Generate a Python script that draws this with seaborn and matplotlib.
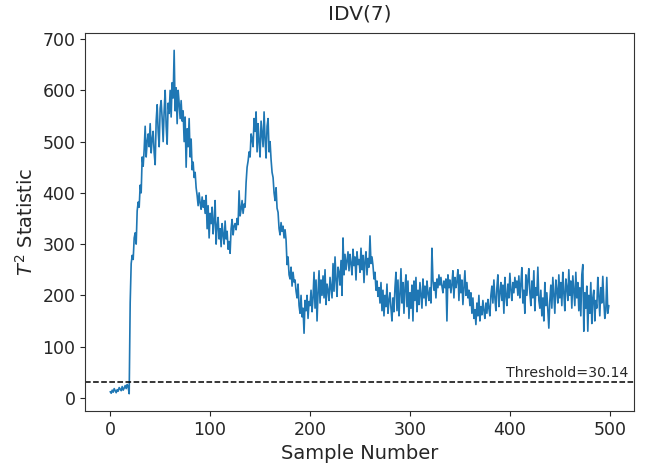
import numpy as np
import pandas as pd
import matplotlib
matplotlib.use("Agg")
import matplotlib.pyplot as plt
import seaborn as sns

# T^2 statistic, one list per 100 samples
t2_000_099 = [12, 9, 15, 11, 18, 14, 10, 16, 13, 20, 17, 14, 22, 15, 19, 24, 18, 26, 21, 8,
              186, 262, 278, 270, 312, 322, 300, 365, 382, 372,
              415, 400, 470, 452, 485, 530, 470, 500, 515, 490,
              535, 478, 505, 520, 478, 455, 540, 572, 520, 490,
              565, 580, 545, 500, 560, 600, 530, 495, 575, 555,
              600, 548, 615, 585, 678, 560, 605, 535, 600, 575,
              545, 580, 540, 560, 500, 548, 450, 525, 490, 545,
              470, 505, 445, 460, 430, 440, 410, 395, 375, 400,
              380, 368, 392, 372, 385, 360, 395, 330, 375, 312]
t2_100_199 = [360, 340, 372, 320, 345, 385, 300, 335, 352, 310,
              330, 295, 340, 318, 300, 345, 310, 325, 290, 305,
              282, 330, 348, 318, 335, 340, 328, 350, 338, 404,
              355, 368, 385, 360, 378, 372, 420, 450, 462, 480,
              470, 515, 505, 490, 545, 520, 558, 480, 535, 500,
              470, 540, 515, 490, 558, 505, 468, 530, 545, 480,
              500, 465, 440, 430, 400, 385, 410, 370, 362, 330,
              318, 342, 325, 335, 312, 328, 308, 260, 275, 240,
              232, 255, 218, 245, 226, 230, 208, 195, 222, 180,
              165, 200, 158, 175, 126, 190, 170, 200, 155, 188]
t2_200_299 = [180, 210, 168, 195, 245, 175, 230, 150, 205, 248,
              185, 230, 200, 238, 195, 250, 182, 222, 210, 190,
              235, 215, 195, 262, 208, 275, 230, 198, 255, 245,
              220, 268, 200, 312, 240, 280, 250, 268, 285, 248,
              280, 262, 240, 290, 258, 275, 230, 285, 260, 270,
              245, 292, 250, 278, 225, 268, 285, 240, 272, 255,
              316, 262, 275, 258, 232, 245, 210, 228, 198, 215,
              185, 225, 170, 210, 160, 200, 178, 222, 165, 190,
              205, 175, 150, 195, 168, 215, 245, 170, 230, 160,
              200, 252, 185, 225, 165, 215, 240, 178, 228, 155]
t2_300_399 = [205, 175, 220, 150, 228, 190, 235, 168, 210, 182,
              225, 200, 175, 232, 195, 218, 180, 228, 205, 190,
              215, 185, 292, 230, 210, 225, 195, 232, 215, 240,
              220, 235, 218, 205, 228, 215, 232, 150, 240, 215,
              230, 205, 222, 248, 195, 235, 215, 228, 250, 190,
              240, 205, 230, 182, 215, 248, 200, 225, 195, 210,
              180, 205, 165, 195, 155, 172, 143, 185, 160, 200,
              150, 178, 162, 190, 170, 155, 185, 165, 192, 175,
              160, 200, 218, 185, 230, 195, 170, 215, 240, 178,
              205, 225, 190, 220, 165, 235, 200, 180, 222, 195]
t2_400_499 = [243, 210, 190, 225, 205, 235, 215, 228, 200, 238,
              195, 222, 254, 185, 210, 165, 240, 200, 230, 252,
              205, 180, 228, 195, 248, 170, 215, 200, 255, 190,
              175, 210, 160, 195, 150, 225, 180, 205, 170, 136,
              190, 220, 175, 235, 200, 165, 230, 210, 185, 240,
              195, 225, 180, 245, 205, 170, 232, 215, 190, 250,
              200, 228, 175, 238, 210, 180, 245, 195, 225, 170,
              215, 160, 240, 260, 130, 205, 175, 218, 130, 200,
              165, 225, 145, 195, 210, 150, 190, 175, 235, 200,
              160, 215, 185, 237, 190, 155, 170, 235, 165, 180]
threshold = 30.14
title = "IDV(7)"

t2 = t2_000_099 + t2_100_199 + t2_200_299 + t2_300_399 + t2_400_499
df = pd.DataFrame({"sample": np.arange(len(t2)), "t2": t2})

sns.set_style("ticks")
plt.rcParams["font.family"] = ["DejaVu Sans"]

fig, ax = plt.subplots(figsize=(6.46, 4.68), dpi=100)
fig.subplots_adjust(left=0.132, right=0.981, top=0.929, bottom=0.122)

sns.lineplot(data=df, x="sample", y="t2", ax=ax, color="#1f77b4", linewidth=1.2)
ax.axhline(threshold, color="black", linestyle="--", linewidth=1.1)
ax.text(519, threshold + 4, f"Threshold={threshold}", ha="right", va="bottom", fontsize=10.2)

ax.set_title(title, fontsize=14.5, pad=10)
ax.set_xlabel("Sample Number", fontsize=14)
ax.set_ylabel("$T^2$ Statistic", fontsize=14)
ax.tick_params(labelsize=12.5)
ax.set_xticks([0, 100, 200, 300, 400, 500])
ax.set_yticks(range(0, 701, 100))
for s in ax.spines.values():
    s.set_visible(True)
    s.set_color("#333333")

fig.savefig("out.png", dpi=100)
